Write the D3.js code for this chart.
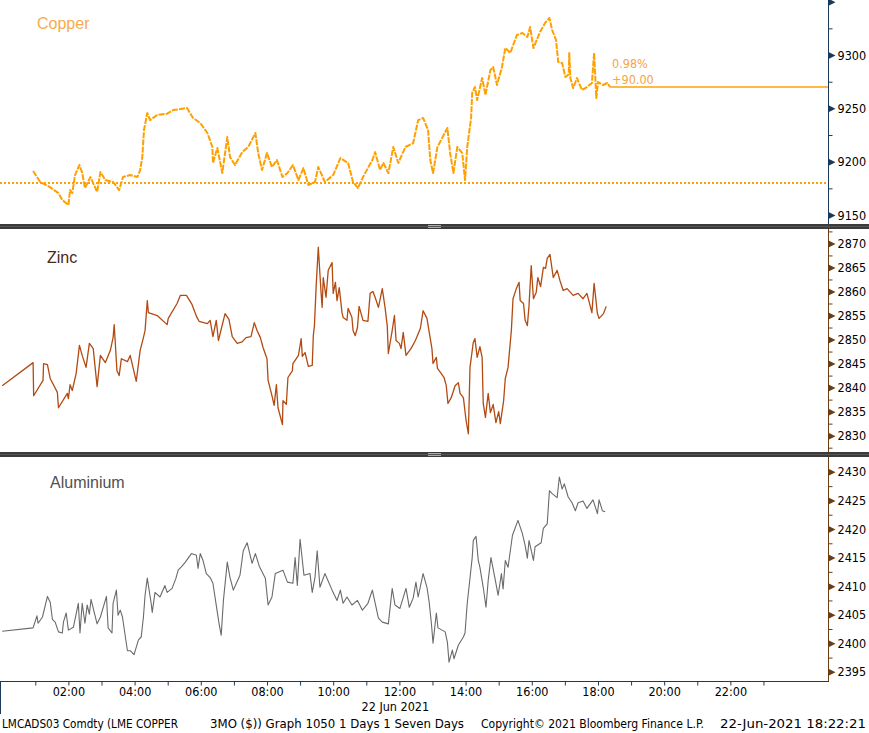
<!DOCTYPE html>
<html>
<head>
<meta charset="utf-8">
<script src="https://cdn.jsdelivr.net/npm/d3@7"></script>
<style>
  body { margin: 0; background: #fff; }
  svg text { font-family: "DejaVu Sans Condensed", "DejaVu Sans", sans-serif; }
  svg text.title { font-family: "Liberation Sans", Arial, sans-serif; }
</style>
</head>
<body>
<svg id="chart" width="869" height="733"></svg>
<script>
// times are minutes after midnight, 22 Jun 2021
var copperTime = [56,69,87,102,109,120,123,127,132,140,
  145,150,160,172,178,187,201,212,219,232,
  245,250,254,257,263,268,281,299,310,335,
  346,359,372,381,382,390,399,408,413,422,
  435,446,459,464,471,480,489,498,508,517,
  527,537,546,555,567,573,585,600,613,627,
  636,645,654,671,676,685,691,700,709,718,
  731,745,754,763,772,776,781,789,807,812,
  818,825,834,839,843,850,852,857,861,870,
  876,885,890,897,906,912,921,933,943,952,
  957,963,975,984,992,997,1004,1008,1015,1021,
  1027,1028,1030,1035,1042,1051,1060,1069,1073,1077,
  1080,1089,1097,1102];
var copperPrice = [9191.3,9181,9176,9170.6,9164,9159.4,9173.4,9170.6,9187.5,9196.9,
  9189.4,9175.3,9185.6,9171.6,9190.3,9182.8,9181,9173.4,9185.6,9187.5,
  9185.6,9192.2,9204.4,9229.7,9245.6,9239,9243.8,9245,9248.4,9250.3,
  9241,9236.3,9226.9,9213.8,9198.8,9212.8,9189.4,9223.1,9204.4,9196.9,
  9209,9213.8,9226.9,9208.1,9192.2,9208.1,9195,9201.6,9185.6,9189.4,
  9196.9,9182.8,9194,9178.1,9181,9195,9181,9187.5,9203.4,9198.8,
  9181,9175.3,9185.6,9201.6,9209,9192.2,9198.8,9189.4,9213.8,9198.8,
  9213.8,9217.5,9239,9241,9229.7,9201.6,9189.4,9213.8,9231.6,9208.1,
  9189.4,9213.8,9208.1,9182.8,9213.8,9241,9264.4,9270,9257.8,9278.4,
  9262.5,9285.9,9288.8,9271.9,9288.8,9306.6,9301.9,9318.8,9320.6,9316.9,
  9326.3,9306.6,9321.6,9330,9334.7,9323.4,9314,9293.4,9292.5,9279.4,
  9282,9301.9,9278.4,9269,9278.4,9267.2,9270,9273.8,9301.9,9259.7,
  9274.7,9271.9,9273.8,9270];
var copperPrevClose = 9180;
var copperLast = 9270;
var copperChange = ["0.98%", "+90.00"];

var zincTime = [0,56,57,74,75,82,87,100,102,118,
  120,123,127,134,140,145,152,158,165,172,
  178,187,196,201,203,208,212,216,227,232,
  243,250,256,259,263,265,281,299,301,317,
  323,334,344,353,357,372,377,382,388,392,
  404,411,417,426,435,442,451,457,462,468,
  473,480,482,488,493,497,500,508,509,515,
  518,526,527,537,542,544,549,555,562,564,
  566,569,573,578,580,582,587,591,598,600,
  604,607,611,616,618,625,627,634,636,640,
  644,647,654,663,667,672,676,682,689,694,
  698,700,707,711,714,720,723,727,732,741,
  749,758,763,770,776,779,781,787,789,796,
  801,805,808,814,821,827,830,836,841,845,
  848,854,857,861,866,870,872,876,881,885,
  890,895,900,903,909,912,917,923,926,932,
  937,939,945,948,952,955,959,963,968,971,
  976,981,985,988,993,999,1006,1011,1017,1024,
  1035,1044,1053,1060,1069,1073,1079,1082,1090,1095];
var zincPrice = [2840.4,2845.2,2838.3,2841.5,2845,2844.8,2841.9,2839,2835.8,2838.8,
  2837.7,2840.6,2839.4,2842.9,2848.8,2846.7,2844.2,2849.2,2848.1,2840.2,
  2846.7,2845.2,2847.7,2850.4,2853.1,2843.5,2842.5,2846,2845.4,2846.7,
  2841.3,2847.7,2850.4,2851.9,2858.1,2855.6,2855,2853.1,2854.4,2857.5,
  2859.2,2859.2,2857.3,2854.6,2853.8,2853.3,2854,2850.6,2854,2849.8,
  2855.4,2854.2,2850.6,2849.2,2849.5,2850.4,2850.6,2853.5,2851.9,2850.4,
  2848.3,2846,2841.5,2838.8,2836.3,2840.6,2835.8,2832.3,2837.3,2836.5,
  2842.1,2843.5,2845,2846.7,2850.2,2846.5,2847.3,2844.4,2844.6,2850.8,
  2852.9,2860.8,2869.2,2859.8,2856.7,2862.9,2858.8,2864.4,2866,2859.6,
  2861.9,2858.1,2860.8,2855.6,2854.6,2854,2856.5,2854.6,2851.9,2850.8,
  2852.5,2856.9,2854,2853.8,2859.6,2860,2858.8,2856.7,2860.6,2856.7,
  2852.9,2847.1,2851.9,2855,2849.8,2849.2,2848.1,2851.5,2846.7,2848.1,
  2849.8,2852.3,2856,2854.4,2850.2,2848.1,2845,2846.3,2844,2842.9,
  2842.1,2840.4,2836.7,2837.9,2840.4,2841,2838.8,2837.9,2833.1,2830.4,
  2844.2,2849.4,2850.2,2846.3,2848.5,2846.3,2836.7,2833.8,2838.8,2834.8,
  2836.5,2832.7,2835,2832.5,2837.3,2841.9,2844.2,2851.9,2858.5,2860.6,
  2861.9,2858.1,2857.5,2854,2852.9,2857,2865.4,2858.5,2859.8,2862.9,
  2861,2865,2864.8,2866.9,2867.7,2862.9,2864.4,2862.3,2860.2,2860.6,
  2859.2,2859.6,2858.5,2859.6,2855.6,2861.7,2855.4,2854.4,2855.4,2856.9];

var aluTime = [0,56,63,65,73,82,87,91,96,102,
  109,111,116,120,129,138,141,145,150,154,
  158,161,172,178,189,192,199,201,207,210,
  214,218,227,232,239,247,252,256,259,263,
  270,272,277,286,295,299,308,315,319,326,
  332,343,352,355,359,364,370,377,382,390,
  393,397,401,408,413,419,431,437,444,453,
  459,466,477,482,489,495,509,517,527,531,
  535,540,547,558,562,567,571,576,585,598,
  607,613,618,625,634,644,653,663,671,682,
  689,700,707,712,721,732,738,745,750,754,
  763,770,774,778,781,787,790,803,807,810,
  816,819,827,836,839,843,847,852,854,859,
  863,866,872,877,881,886,894,899,905,908,
  912,917,925,935,943,948,952,955,963,966,
  977,981,988,992,997,1006,1010,1015,1019,1026,
  1033,1039,1044,1053,1060,1071,1079,1082,1088,1093];
var aluPrice = [2402.1,2402.7,2404.8,2403.5,2404.6,2408.2,2407.2,2404.2,2403.7,2402,
  2401.8,2403.7,2405.3,2402.3,2402.8,2407,2401.8,2407,2403.5,2406.7,
  2405.1,2407.7,2403.4,2404.6,2408.2,2402.7,2401.8,2407,2409.3,2404.9,
  2405.8,2404.6,2398.7,2398.7,2398,2400.6,2401.1,2404.6,2408.4,2411.4,
  2407,2405.4,2408.9,2408.1,2410.1,2408.9,2409.6,2411.4,2412.8,2413.5,
  2414.2,2415.7,2415.4,2413.1,2415.7,2414.5,2412.2,2411.5,2410.5,2405.4,
  2403.5,2401.4,2407.5,2414.2,2411.5,2409.3,2411.9,2416.2,2417.6,2414,
  2415.7,2413.5,2411.4,2406.7,2408.1,2412.2,2412.8,2410.7,2410.5,2415,
  2410.1,2418.2,2411.9,2412.2,2408.9,2411.5,2416.2,2409.8,2412.2,2409.3,
  2407.5,2409.3,2407,2408.1,2406.7,2407.5,2405.8,2407,2409.3,2404.4,
  2403.7,2403.4,2409.6,2406.7,2406.1,2409.6,2406.3,2407.9,2410.7,2408.1,
  2412.2,2409.8,2407.2,2403.5,2400,2405.3,2402.7,2402,2400.2,2396.7,
  2398.8,2397.3,2399.7,2401.1,2401.8,2407,2410.5,2415,2418,2418.7,
  2414.5,2413.3,2409.8,2406.3,2411,2415,2411,2408.4,2412.2,2409.5,
  2414.5,2413.3,2418.9,2421.5,2419.2,2417.1,2414.9,2418,2414.5,2416.9,
  2417.6,2420.1,2420.9,2426.7,2426.2,2425.5,2429.1,2427,2427.9,2425.6,
  2424.6,2423.2,2424.6,2424.9,2423.6,2425.1,2422.7,2425.1,2423.2,2423];

var copperTicks = [9150, 9200, 9250, 9300, 9350];
var copperMinor = [9175, 9225, 9275, 9325];
var zincTicks = [2830, 2835, 2840, 2845, 2850, 2855, 2860, 2865, 2870];
var zincMinor = [2827.5, 2832.5, 2837.5, 2842.5, 2847.5, 2852.5, 2857.5, 2862.5, 2867.5, 2872.5];
var aluTicks = [2395, 2400, 2405, 2410, 2415, 2420, 2425, 2430];
var aluMinor = [2397.5, 2402.5, 2407.5, 2412.5, 2417.5, 2422.5, 2427.5];
var hourTicks = [1,2,3,4,5,6,7,8,9,10,11,12,13,14,15,16,17,18,19,20,21,22,23];
var dateLabel = "22 Jun 2021";
var footer = [
  { text: "LMCADS03 Comdty (LME COPPER", x: 2, w: 176 },
  { text: "3MO ($)) Graph 1050 1 Days 1 Seven Days", x: 210, w: 254 },
  { text: "Copyright\u00a9 2021 Bloomberg Finance L.P.", x: 481, w: 223 },
  { text: "22-Jun-2021 18:22:21", x: 720, w: 146 }
];

var plotRight = 828, plotBottom = 681;
var svg = d3.select("#chart");
var base = new Date(2021, 5, 22);
function at(m) { return new Date(base.getTime() + m * 60000); }

var x = d3.scaleTime().domain([at(-4), at(1497)]).range([0, plotRight]);

var panels = [
  { name: "Copper", time: copperTime, price: copperPrice, top: 0, bottom: 224,
    domain: [9141.6, 9351.6], ticks: copperTicks, minor: copperMinor,
    color: "#ffa000", width: 2, dash: "6,1.2", label: "#f7ab4a", labelY: 29, labelX: 37,
    axis: "#1b3a5a" },
  { name: "Zinc", time: zincTime, price: zincPrice, top: 229, bottom: 452,
    domain: [2826.6, 2873.0], ticks: zincTicks, minor: zincMinor,
    color: "#b24a12", width: 1.3, label: "#4a2816", labelY: 263, labelX: 47,
    axis: "#6b3d12" },
  { name: "Aluminium", time: aluTime, price: aluPrice, top: 457, bottom: plotBottom,
    domain: [2393.4, 2432.6], ticks: aluTicks, minor: aluMinor,
    color: "#6a6a6a", width: 1.1, label: "#505050", labelY: 488, labelX: 50,
    axis: "#6b3d12" }
];

panels.forEach(function (p) {
  var y = d3.scaleLinear().domain(p.domain).range([p.bottom, p.top]);
  var clipId = "clip-" + p.name;
  svg.append("clipPath").attr("id", clipId)
    .append("rect").attr("x", 0).attr("y", p.top)
    .attr("width", plotRight).attr("height", p.bottom - p.top);

  var pts = p.time.map(function (t, i) { return [at(t), p.price[i]]; });
  var line = d3.line().x(function (d) { return x(d[0]); }).y(function (d) { return y(d[1]); });
  var g = svg.append("g").attr("clip-path", "url(#" + clipId + ")");

  if (p.name === "Copper") {
    // previous close, dotted
    g.append("line")
      .attr("x1", 0).attr("x2", plotRight)
      .attr("y1", y(copperPrevClose)).attr("y2", y(copperPrevClose))
      .attr("stroke", p.color).attr("stroke-width", 2).attr("stroke-dasharray", "2,2");
    // last price carried to the axis
    g.append("line")
      .attr("x1", x(at(copperTime[copperTime.length - 1]))).attr("x2", plotRight)
      .attr("y1", y(copperLast)).attr("y2", y(copperLast))
      .attr("stroke", p.color).attr("stroke-width", 1.4);
    svg.selectAll(".chg").data(copperChange).join("text")
      .attr("class", "chg")
      .attr("x", x(at(copperTime[copperTime.length - 1])) + 2)
      .attr("y", function (d, i) { return 68 + i * 16; })
      .attr("font-size", 12.5).attr("fill", "#f2a644")
      .text(function (d) { return d; });
  }

  g.append("path").datum(pts)
    .attr("fill", "none")
    .attr("stroke", p.color)
    .attr("stroke-width", p.width)
    .attr("stroke-dasharray", p.dash || null)
    .attr("stroke-linejoin", "round")
    .attr("d", line);

  svg.append("text")
    .attr("class", "title")
    .attr("x", p.labelX).attr("y", p.labelY)
    .attr("font-size", 16).attr("fill", p.label)
    .text(p.name);

  // right axis
  svg.append("line")
    .attr("x1", plotRight + 0.5).attr("x2", plotRight + 0.5)
    .attr("y1", p.top).attr("y2", p.bottom)
    .attr("stroke", p.axis).attr("stroke-width", 1);

  var minor = svg.append("g").attr("transform", "translate(" + (plotRight + 0.5) + ",0)")
    .call(d3.axisRight(y).tickValues(p.minor).tickSize(4).tickFormat(""));
  minor.select(".domain").remove();
  minor.selectAll("line").attr("stroke", p.axis);

  var ax = svg.append("g").attr("transform", "translate(" + (plotRight + 0.5) + ",0)")
    .call(d3.axisRight(y).tickValues(p.ticks).tickSize(0).tickPadding(9).tickFormat(d3.format("d")));
  ax.attr("font-family", null).attr("font-size", null);
  ax.select(".domain").remove();
  ax.selectAll(".tick").append("path")
    .attr("d", "M0,-3.5L7,0L0,3.5Z")
    .attr("fill", p.axis);
  ax.selectAll("text")
    .attr("font-size", 12.5).attr("fill", "#000")
    .style("display", function (d) { return y(d) < 8 ? "none" : null; });
});

// panel separators
[224, 452].forEach(function (sy) {
  svg.append("rect").attr("x", 0).attr("y", sy).attr("width", 869).attr("height", 5).attr("fill", "#3b3b3b");
  svg.append("rect").attr("x", 0).attr("y", sy + 2).attr("width", 869).attr("height", 1).attr("fill", "#555");
  [1, 3].forEach(function (k) {
    svg.append("rect").attr("x", 428).attr("y", sy + k).attr("width", 13).attr("height", 1).attr("fill", "#aaa");
  });
});

// time axis
svg.append("line")
  .attr("x1", 0).attr("x2", plotRight + 1)
  .attr("y1", plotBottom + 0.5).attr("y2", plotBottom + 0.5)
  .attr("stroke", "#1b3a5a");
svg.append("line")
  .attr("x1", 0.5).attr("x2", 0.5)
  .attr("y1", plotBottom).attr("y2", 714)
  .attr("stroke", "#1b3a5a");

var xAxis = svg.append("g").attr("transform", "translate(0," + (plotBottom + 0.5) + ")")
  .call(d3.axisBottom(x)
    .tickValues(hourTicks.map(function (h) { return at(h * 60); }))
    .tickSize(4)
    .tickFormat(function (d) { return d.getHours() % 2 === 0 ? d3.timeFormat("%H:%M")(d) : ""; }));
xAxis.attr("font-family", null).attr("font-size", null);
xAxis.select(".domain").remove();
xAxis.selectAll("line").attr("stroke", "#1b3a5a");
xAxis.selectAll("text").attr("y", 14).attr("dy", 0).attr("font-size", 12.5).attr("fill", "#000");

svg.append("text")
  .attr("x", x(at(12 * 60)) - 4).attr("y", 711)
  .attr("text-anchor", "middle").attr("font-size", 12.5).attr("fill", "#000")
  .text(dateLabel);

svg.selectAll(".foot").data(footer).join("text")
  .attr("class", "foot")
  .attr("x", function (d) { return d.x; }).attr("y", 728)
  .attr("font-size", 12.5).attr("fill", "#000")
  .attr("textLength", function (d) { return d.w; })
  .attr("lengthAdjust", "spacingAndGlyphs")
  .text(function (d) { return d.text; });
</script>
</body>
</html>
